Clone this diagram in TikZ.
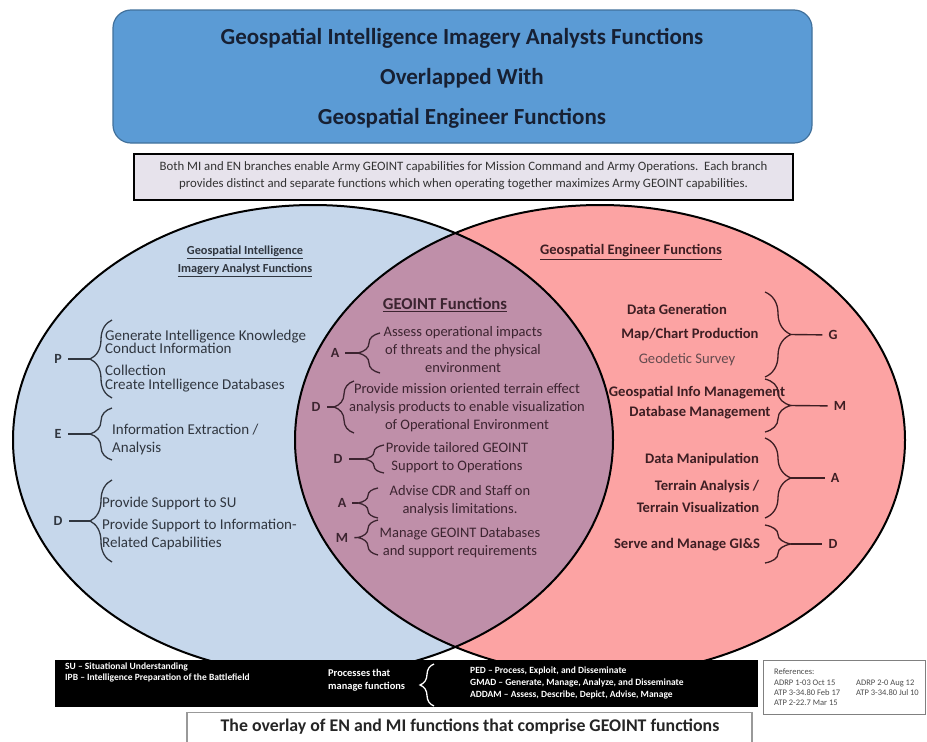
\documentclass[tikz,border=0pt]{standalone}
\usepackage{fontspec}
\setmainfont{Carlito}
\usetikzlibrary{decorations.pathreplacing}

\definecolor{titleblue}{HTML}{5B9BD5}
\definecolor{titleedge}{HTML}{41719C}
\definecolor{titleink}{HTML}{172033}
\definecolor{descfill}{HTML}{E7E3EC}
\definecolor{mifill}{HTML}{C6D7EB}
\definecolor{enfill}{HTML}{FCA3A3}
\definecolor{geofill}{HTML}{BF8FA9}
\definecolor{miink}{HTML}{30363F}
\definecolor{geoink}{HTML}{3C2430}
\definecolor{enink}{HTML}{3D1E23}

\begin{document}
\begin{tikzpicture}[x=1pt,y=-1pt,
  every node/.style={inner sep=0pt},
  lbrace/.style={decorate,decoration={brace,amplitude=#1},line width=1.3pt},
  tick/.style={line width=1.4pt,shorten >=6pt},
  letter/.style={font=\fontsize{14}{14}\selectfont\bfseries},
  mitext/.style={font=\fontsize{15}{13.5}\selectfont,text=miink,align=left,anchor=west},
  geotext/.style={font=\fontsize{14.5}{18}\selectfont,text=geoink,align=center},
  entext/.style={font=\fontsize{14.6}{14}\selectfont\bfseries,text=enink},
  key/.style={font=\fontsize{9.5}{11.5}\selectfont\bfseries,text=white,align=left,anchor=west},
  reftext/.style={font=\fontsize{8.5}{9}\selectfont,text=gray!60!black,anchor=west}]

\useasboundingbox (0,0) rectangle (927,742);
\fill[white] (0,0) rectangle (927,742);

\node[draw=titleedge,fill=titleblue,rounded corners=18pt,line width=1.2pt,
  minimum width=699pt,minimum height=133pt] (title) at (462.5,76.5) {};
\node[font=\fontsize{23}{23}\selectfont\bfseries,text=titleink] (title1) at (462,38) {Geospatial Intelligence Imagery Analysts Functions};
\node[font=\fontsize{23}{23}\selectfont\bfseries,text=titleink] (title2) at (462,78) {Overlapped With};
\node[font=\fontsize{23}{23}\selectfont\bfseries,text=titleink] (title3) at (462,118) {Geospatial Engineer Functions};

\node[draw,line width=2.2pt,fill=descfill,minimum width=659pt,minimum height=46pt] (desc) at (463.5,177) {};
\node[font=\fontsize{12.8}{17}\selectfont,text=black!80,align=center] (desctext) at (463.5,176) {Both MI and EN branches enable Army GEOINT capabilities for Mission Command and Army Operations.\ \ Each branch\\provides distinct and separate functions which when operating together maximizes Army GEOINT capabilities.};

\coordinate (mic) at (313,440);
\coordinate (enc) at (600,440);
\fill[mifill] (mic) ellipse [x radius=300pt,y radius=235pt];
\fill[enfill] (enc) ellipse [x radius=305pt,y radius=235pt];
\begin{scope}
  \clip (mic) ellipse [x radius=300pt,y radius=235pt];
  \fill[geofill] (enc) ellipse [x radius=305pt,y radius=235pt];
\end{scope}
\draw[line width=2pt] (mic) ellipse [x radius=300pt,y radius=235pt];
\draw[line width=2pt] (enc) ellipse [x radius=305pt,y radius=235pt];

\node[font=\fontsize{12.3}{18}\selectfont\bfseries,align=center,text=miink] (mihead) at (245,261) {\underline{Geospatial Intelligence}\\\underline{Imagery Analyst Functions}};
\node[font=\fontsize{14.5}{18}\selectfont\bfseries,text=enink] (enhead) at (631,252) {\underline{Geospatial Engineer Functions}};
\node[font=\fontsize{16.7}{16}\selectfont\bfseries,text=geoink] (geohead) at (445,305) {\underline{GEOINT Functions}};

\node[mitext] (pitems) at (105,361) {Generate Intelligence Knowledge\\Conduct Information\\[8.5pt]Collection\\Create Intelligence Databases};
\coordinate (pbot) at (112,398);
\coordinate (ptop) at (112,320);
\coordinate (ptip) at (90,359);
\draw[lbrace=22pt,miink] (pbot) -- (ptop);
\node[letter,text=miink] (pletter) at (58,359) {P};
\draw[tick,miink] (ptip) -- (pletter);

\node[mitext] (eitems) at (112,439) {Information Extraction /\\[4.5pt]Analysis};
\coordinate (ebot) at (112,460);
\coordinate (etop) at (112,408);
\coordinate (etip) at (90,434);
\draw[lbrace=22pt,miink] (ebot) -- (etop);
\node[letter,text=miink] (eletter) at (58,434) {E};
\draw[tick,miink] (etip) -- (eletter);

\node[mitext] (ditems) at (102,523) {Provide Support to SU\\[8.5pt]Provide Support to Information-\\[4.5pt]Related Capabilities};
\coordinate (dbot) at (112,562);
\coordinate (dtop) at (112,480);
\coordinate (dtip) at (90,521);
\draw[lbrace=22pt,miink] (dbot) -- (dtop);
\node[letter,text=miink] (dletter) at (58,521) {D};
\draw[tick,miink] (dtip) -- (dletter);

\node[geotext] (assessitems) at (463,350) {Assess operational impacts\\of threats and the physical\\environment};
\coordinate (assessbot) at (380,373);
\coordinate (assesstop) at (380,333);
\coordinate (assesstip) at (358,353);
\draw[lbrace=22pt,geoink] (assessbot) -- (assesstop);
\node[letter,text=geoink] (assessletter) at (335,353) {A};
\draw[tick,geoink] (assesstip) -- (assessletter);

\node[geotext] (describeitems) at (467,408) {Provide mission oriented terrain effect\\analysis products to enable visualization\\of Operational Environment};
\coordinate (describebot) at (354,433);
\coordinate (describetop) at (354,381);
\coordinate (describetip) at (334,407);
\draw[lbrace=20pt,geoink] (describebot) -- (describetop);
\node[letter,text=geoink] (describeletter) at (316,407) {D};
\draw[tick,geoink] (describetip) -- (describeletter);

\node[geotext] (depictitems) at (457,458) {Provide tailored GEOINT\\Support to Operations};
\coordinate (depictbot) at (384,473);
\coordinate (depicttop) at (384,445);
\coordinate (depicttip) at (364,459);
\draw[lbrace=20pt,geoink] (depictbot) -- (depicttop);
\node[letter,text=geoink] (depictletter) at (338,459) {D};
\draw[tick,geoink] (depicttip) -- (depictletter);

\node[geotext] (adviseitems) at (460,501) {Advise CDR and Staff on\\analysis limitations.};
\coordinate (advisebot) at (378,518);
\coordinate (advisetop) at (378,488);
\coordinate (advisetip) at (358,503);
\draw[lbrace=20pt,geoink] (advisebot) -- (advisetop);
\node[letter,text=geoink] (adviseletter) at (342,503) {A};
\draw[tick,geoink] (advisetip) -- (adviseletter);

\node[geotext] (manageitems) at (460,542.5) {Manage GEOINT Databases\\and support requirements};
\coordinate (managebot) at (378,555);
\coordinate (managetop) at (378,520);
\coordinate (managetip) at (358,537.5);
\draw[lbrace=20pt,geoink] (managebot) -- (managetop);
\node[letter,text=geoink] (manageletter) at (342,538) {M};
\draw[tick,geoink] (managetip) -- (manageletter);

\node[entext] (engen1) at (677,309) {Data Generation};
\node[entext] (engen2) at (690,335) {Map/Chart Production};
\node[entext,font=\fontsize{14.6}{14}\selectfont,text=enink!80] (engen3) at (687,360) {Geodetic Survey};
\coordinate (gentop) at (765,292);
\coordinate (genbot) at (765,377);
\coordinate (gentip) at (791,334.5);
\draw[lbrace=26pt,enink] (gentop) -- (genbot);
\node[letter,text=enink] (genletter) at (833,335) {G};
\draw[tick,enink] (gentip) -- (genletter);

\node[entext] (enman1) at (697,393) {Geospatial Info Management};
\node[entext] (enman2) at (700,413) {Database Management};
\coordinate (mantop) at (765,379);
\coordinate (manbot) at (765,432);
\coordinate (mantip) at (791,405.5);
\draw[lbrace=26pt,enink] (mantop) -- (manbot);
\node[letter,text=enink] (manletter) at (840,406) {M};
\draw[tick,enink] (mantip) -- (manletter);

\node[entext] (enana1) at (702,460) {Data Manipulation};
\node[entext] (enana2) at (707,487) {Terrain Analysis /};
\node[entext] (enana3) at (698,507) {Terrain Visualization};
\coordinate (anatop) at (765,438);
\coordinate (anabot) at (765,518);
\coordinate (anatip) at (791,478);
\draw[lbrace=26pt,enink] (anatop) -- (anabot);
\node[letter,text=enink] (analetter) at (835,478) {A};
\draw[tick,enink] (anatip) -- (analetter);

\node[entext] (endis1) at (687,545) {Serve and Manage GI\&S};
\coordinate (distop) at (765,525);
\coordinate (disbot) at (765,563);
\coordinate (distip) at (791,544);
\draw[lbrace=26pt,enink] (distop) -- (disbot);
\node[letter,text=enink] (disletter) at (833,544) {D};
\draw[tick,enink] (distip) -- (disletter);

\node[fill=black,minimum width=703pt,minimum height=47pt] (keybar) at (406.5,683.5) {};
\node[key] (abbrev) at (65,672.5) {SU -- Situational Understanding\\IPB -- Intelligence Preparation of the Battlefield};
\node[key,font=\fontsize{10.4}{13}\selectfont\bfseries] (procs) at (328,680) {Processes that\\manage functions};
\coordinate (procbot) at (434,706);
\coordinate (proctop) at (434,664);
\draw[lbrace=14pt,white] (procbot) -- (proctop);
\node[key,font=\fontsize{9.5}{12}\selectfont\bfseries] (procnames) at (470,683) {PED -- Process, Exploit, and Disseminate\\GMAD -- Generate, Manage, Analyze, and Disseminate\\ADDAM -- Assess, Describe, Depict, Advise, Manage};

\node[draw=gray,line width=1pt,fill=white,minimum width=162pt,minimum height=54pt] (refbox) at (844,687) {};
\node[reftext] (refhead) at (774,672) {References:};
\node[reftext] (ref1) at (774,683) {ADRP 1-03 Oct 15};
\node[reftext] (ref2) at (856,683) {ADRP 2-0 Aug 12};
\node[reftext] (ref3) at (774,693) {ATP 3-34.80 Feb 17};
\node[reftext] (ref4) at (856,693) {ATP 3-34.80 Jul 10};
\node[reftext] (ref5) at (774,703) {ATP 2-22.7 Mar 15};

\node[draw=gray!80,line width=1.2pt,minimum width=565pt,minimum height=40pt,anchor=north] (capbox) at (469.5,712) {};
\node[font=\fontsize{17.8}{18}\selectfont\bfseries,text=black!85] (caption) at (470,727) {The overlay of EN and MI functions that comprise GEOINT functions};
\end{tikzpicture}
\end{document}
